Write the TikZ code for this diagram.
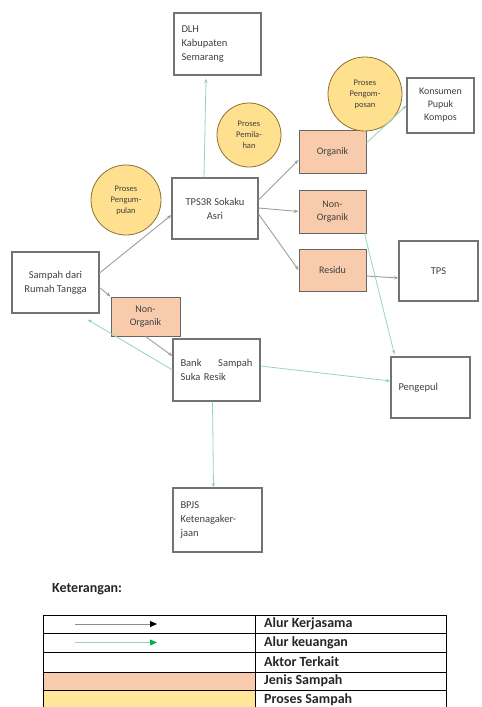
\documentclass[tikz,border=0pt]{standalone}
\usepackage{fontspec}
\setmainfont{Carlito}
\usetikzlibrary{arrows.meta,shapes.geometric}
\definecolor{salmon}{HTML}{F8CBAD}
\definecolor{goldfill}{HTML}{FFE08E}
\definecolor{goldline}{HTML}{8C7030}
\definecolor{legendgold}{HTML}{FFE699}
\definecolor{flowgray}{HTML}{9E9E9E}
\definecolor{flowgreen}{HTML}{96D6AE}
\definecolor{tipgreen}{HTML}{00B050}
\definecolor{txt}{HTML}{404040}
\begin{document}
\begin{tikzpicture}[x=1pt,y=-1pt,
  actor/.style={draw=black!55, line width=1.1pt, fill=white, text=txt,
    font=\fontsize{10.5}{14}\selectfont},
  jenis/.style={draw=black!60, line width=1pt, fill=salmon, text=txt,
    minimum width=67pt, minimum height=43pt, align=center,
    font=\fontsize{10}{13}\selectfont},
  proses/.style={circle, draw=goldline, line width=0.8pt, fill=goldfill,
    text=black!75, align=center, inner sep=0pt,
    font=\fontsize{8.5}{11}\selectfont},
  kerja/.style={draw=flowgray, line width=0.9pt, -{Stealth[length=4.5pt,width=3.5pt]}},
  uang/.style={draw=flowgreen, line width=0.8pt, -{Stealth[length=4.5pt,width=3.5pt]}},
  lbl/.style={font=\bfseries\fontsize{14}{16}\selectfont, anchor=west, inner sep=0pt, text=black!85}
]
\useasboundingbox (0,0) rectangle (482,707);
\clip (0,0) rectangle (482,707);

% actors
\node[actor, minimum width=87pt, minimum height=62pt, align=left, text width=72pt] (dlh) at (217.5,44) {DLH\\Kabupaten\\Semarang};
\node[actor, minimum width=86pt, minimum height=61pt, align=center] (tps3r) at (215,208.5) {TPS3R Sokaku\\Asri};
\node[actor, minimum width=87pt, minimum height=61pt, align=center] (sampah) at (55.5,282.5) {Sampah dari\\Rumah Tangga};
\node[actor, minimum width=87pt, minimum height=62pt, align=left, text width=72pt] (bank) at (216.5,370) {Bank\hfill Sampah\\Suka Resik};
\node[actor, minimum width=79pt, minimum height=61pt, align=left, text width=64pt] (pengepul) at (430.5,387.5) {Pengepul};
\node[actor, minimum width=89pt, minimum height=64pt, align=left, text width=74pt] (bpjs) at (217.5,520) {BPJS\\Ketenagaker-\\jaan};
\node[actor, minimum width=67pt, minimum height=55pt, align=center, inner sep=1pt, font=\fontsize{10}{13}\selectfont] (konsumen) at (440.5,105.5) {Konsumen\\Pupuk\\Kompos};
\node[actor, minimum width=79pt, minimum height=60pt, align=center] (tps) at (438.5,271) {TPS};

% jenis sampah
\node[jenis] (organik) at (332.5,151.5) {Organik};
\node[jenis] (nonorgr) at (332.5,211.5) {Non-\\Organik};
\node[jenis, minimum height=42pt] (residu) at (332.5,270) {Residu};
\node[jenis, minimum width=69pt, minimum height=39pt] (nonorgl) at (145.5,316.5) {Non-\\Organik};

% proses
\node[proses, minimum size=70pt] (pengumpulan) at (126,200) {Proses\\Pengum-\\pulan};
\node[proses, minimum size=64pt] (pemilahan) at (249,135) {Proses\\Pemila-\\han};
\node[proses, minimum size=74pt] (pengomposan) at (365,94) {Proses\\Pengom-\\posan};

% alur kerjasama
\draw[kerja] ([yshift=9.5pt]sampah.east) -- ([yshift=-6.5pt]tps3r.west);
\draw[kerja] ([yshift=-5pt]sampah.east) -- (nonorgl.north west);
\draw[kerja] (nonorgl.south) -- ([yshift=14pt]bank.west);
\draw[kerja] ([yshift=8.5pt]tps3r.east) -- ([yshift=-8.5pt]organik.west);
\draw[kerja] ([yshift=0.5pt]tps3r.east) -- (nonorgr.west);
\draw[kerja] ([yshift=-5.5pt]tps3r.east) -- (residu.west);
\draw[kerja] ([yshift=-6pt]residu.east) -- ([yshift=-7pt]tps.west);

% alur keuangan
\draw[uang] (bank.west) -- ([xshift=32pt,yshift=-6pt]sampah.south);
\draw[uang] ([xshift=-11pt]tps3r.north) -- ([xshift=-11.5pt,yshift=-3pt]dlh.south);
\draw[uang] ([yshift=8.5pt]organik.east) -- (konsumen.west);
\draw[uang] ([xshift=-2pt]nonorgr.south east) -- ([xshift=4pt,yshift=2pt]pengepul.north west);
\draw[uang] ([yshift=4pt]bank.east) -- ([yshift=6.5pt]pengepul.west);
\draw[uang] ([xshift=-4pt]bank.south) -- ([xshift=-4pt]bpjs.north);

% legend
\node[lbl] (ket) at (52,589) {Keterangan:};
\fill[salmon] (43,672) rectangle (255,690);
\fill[legendgold] (43,690) rectangle (255,712);
\draw[black, line width=0.9pt] (43,615) rectangle (446,712);
\foreach \yy in {633,652,672,690} \draw[black, line width=0.9pt] (43,\yy) -- (446,\yy);
\draw[black, line width=0.9pt] (255,615) -- (255,712);
\coordinate (k1) at (75,624);
\coordinate (k2) at (157,624);
\coordinate (u1) at (75,642.5);
\coordinate (u2) at (157,642.5);
\draw[draw=black!45, line width=1pt, -{Triangle[color=black,length=7pt,width=6pt]}] (k1) -- (k2);
\draw[draw=flowgreen, line width=1pt, -{Triangle[color=tipgreen,length=7pt,width=6pt]}] (u1) -- (u2);
\node[lbl] (l1) at (264,624) {Alur Kerjasama};
\node[lbl] (l2) at (264,642.5) {Alur keuangan};
\node[lbl] (l3) at (264,662) {Aktor Terkait};
\node[lbl] (l4) at (264,681) {Jenis Sampah};
\node[lbl] (l5) at (264,699.5) {Proses Sampah};
\end{tikzpicture}
\end{document}
